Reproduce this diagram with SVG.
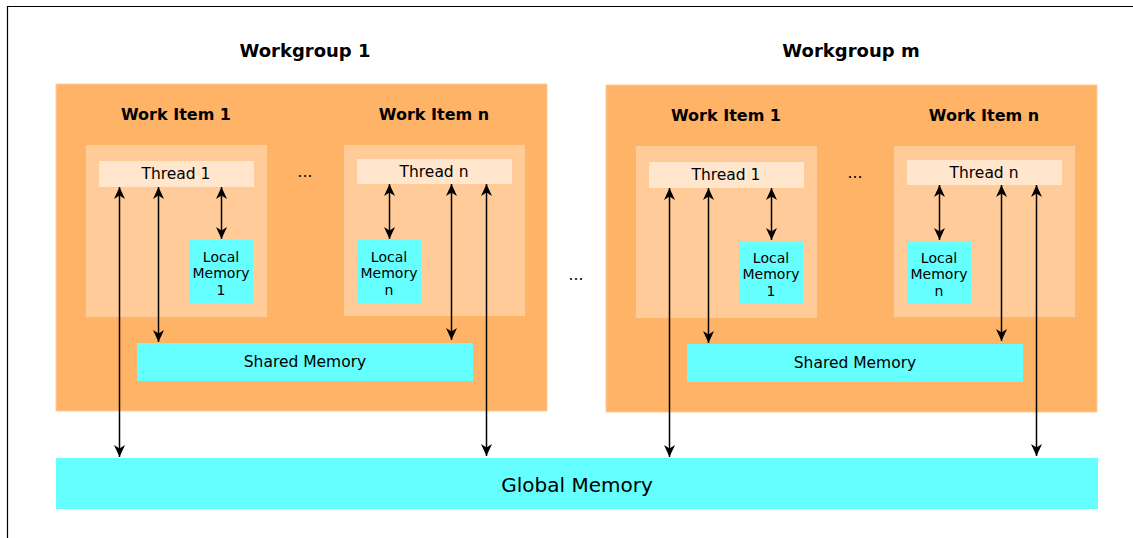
<svg xmlns="http://www.w3.org/2000/svg" width="1133" height="538" viewBox="0 0 1133 538">
  <style>
    .wg { fill: #FFB366; stroke: #FFCC99; stroke-width: 1; }
    .item { fill: #FFCC99; }
    .thread { fill: #FFE6CC; }
    .mem { fill: #66FFFF; }
    .title { font-family: "DejaVu Sans", Verdana, sans-serif; font-weight: bold; font-size: 18px; fill: #000; text-anchor: middle; }
    .sub { font-family: "DejaVu Sans", Verdana, sans-serif; font-weight: bold; font-size: 16px; fill: #000; text-anchor: middle; }
    .lbl { font-family: "DejaVu Sans", Verdana, sans-serif; font-size: 15.5px; fill: #000; text-anchor: middle; }
    .small { font-family: "DejaVu Sans", Verdana, sans-serif; font-size: 14px; fill: #000; text-anchor: middle; }
    .big { font-family: "DejaVu Sans", Verdana, sans-serif; font-size: 20px; fill: #000; text-anchor: middle; }
    .link { stroke: #000; stroke-width: 1.5; fill: none; marker-start: url(#head); marker-end: url(#head); }
  </style>
  <defs>
    <marker id="head" viewBox="0 0 12 12" refX="12" refY="6" markerWidth="12" markerHeight="12" markerUnits="userSpaceOnUse" orient="auto-start-reverse">
      <path d="M0,0.5 L12,6 L0,11.5 L3.5,6 z" fill="#000"/>
    </marker>
  </defs>

  <rect width="1133" height="538" fill="#fff"/>
  <!-- outer frame (top and left edges) -->
  <path d="M7.5,538 V6.5 H1133" stroke="#000" stroke-width="1.2" fill="none"/>

  <!-- Workgroup 1 -->
  <g id="workgroup-1">
    <text class="title" x="305" y="57">Workgroup 1</text>
    <rect class="wg" x="56" y="84" width="491" height="327"/>
    <g id="wg1-item-1">
      <text class="sub" x="176" y="120">Work Item 1</text>
      <rect class="item" x="86" y="145" width="181" height="172"/>
      <g id="wg1-thread-1">
        <rect class="thread" x="99" y="161" width="155" height="26"/>
        <text class="lbl" x="176" y="179">Thread 1</text>
      </g>
      <g id="wg1-local-1">
        <rect class="mem" x="189" y="240" width="64" height="63"/>
        <text class="small" x="221" y="262">Local</text>
        <text class="small" x="221" y="278">Memory</text>
        <text class="small" x="221" y="295">1</text>
      </g>
    </g>
    <text class="lbl" x="305" y="177">...</text>
    <g id="wg1-item-n">
      <text class="sub" x="434" y="120">Work Item n</text>
      <rect class="item" x="344" y="145" width="181" height="171"/>
      <g id="wg1-thread-n">
        <rect class="thread" x="357" y="159" width="155" height="25"/>
        <text class="lbl" x="434" y="177">Thread n</text>
      </g>
      <g id="wg1-local-n">
        <rect class="mem" x="357" y="240" width="64" height="63"/>
        <text class="small" x="389" y="262">Local</text>
        <text class="small" x="389" y="278">Memory</text>
        <text class="small" x="389" y="295">n</text>
      </g>
    </g>
    <g id="wg1-shared">
      <rect class="mem" x="137" y="343" width="336" height="38"/>
      <text class="lbl" x="305" y="367">Shared Memory</text>
    </g>
  </g>

  <text class="lbl" x="576" y="280">...</text>

  <!-- Workgroup m -->
  <g id="workgroup-m">
    <text class="title" x="851" y="57">Workgroup m</text>
    <rect class="wg" x="606" y="85" width="491" height="327"/>
    <g id="wgm-item-1">
      <text class="sub" x="726" y="121">Work Item 1</text>
      <rect class="item" x="636" y="146" width="181" height="172"/>
      <g id="wgm-thread-1">
        <rect class="thread" x="649" y="162" width="155" height="26"/>
        <text class="lbl" x="726" y="180">Thread 1</text>
      </g>
      <g id="wgm-local-1">
        <rect class="mem" x="739" y="241" width="64" height="63"/>
        <text class="small" x="771" y="263">Local</text>
        <text class="small" x="771" y="279">Memory</text>
        <text class="small" x="771" y="296">1</text>
      </g>
    </g>
    <text class="lbl" x="855" y="178">...</text>
    <g id="wgm-item-n">
      <text class="sub" x="984" y="121">Work Item n</text>
      <rect class="item" x="894" y="146" width="181" height="171"/>
      <g id="wgm-thread-n">
        <rect class="thread" x="907" y="160" width="155" height="25"/>
        <text class="lbl" x="984" y="178">Thread n</text>
      </g>
      <g id="wgm-local-n">
        <rect class="mem" x="907" y="241" width="64" height="63"/>
        <text class="small" x="939" y="263">Local</text>
        <text class="small" x="939" y="279">Memory</text>
        <text class="small" x="939" y="296">n</text>
      </g>
    </g>
    <g id="wgm-shared">
      <rect class="mem" x="687" y="344" width="336" height="38"/>
      <text class="lbl" x="855" y="368">Shared Memory</text>
    </g>
  </g>

  <!-- Global memory -->
  <g id="global-memory">
    <rect class="mem" x="56" y="458" width="1042" height="51"/>
    <text class="big" x="577" y="492">Global Memory</text>
  </g>

  <!-- connectors -->
  <g id="connectors">
    <line class="link" x1="119.5" y1="187" x2="119.5" y2="457"/>
    <line class="link" x1="158.5" y1="187" x2="158.5" y2="342"/>
    <line class="link" x1="221.5" y1="187" x2="221.5" y2="239"/>
    <line class="link" x1="389.5" y1="184" x2="389.5" y2="239"/>
    <line class="link" x1="451.5" y1="184" x2="451.5" y2="340"/>
    <line class="link" x1="486.5" y1="184" x2="486.5" y2="456"/>

    <line class="link" x1="669.5" y1="188" x2="669.5" y2="457"/>
    <line class="link" x1="708.5" y1="188" x2="708.5" y2="343"/>
    <line class="link" x1="771.5" y1="188" x2="771.5" y2="240"/>
    <line class="link" x1="939.5" y1="185" x2="939.5" y2="240"/>
    <line class="link" x1="1001.5" y1="185" x2="1001.5" y2="341"/>
    <line class="link" x1="1036.5" y1="185" x2="1036.5" y2="456"/>
  </g>
</svg>
